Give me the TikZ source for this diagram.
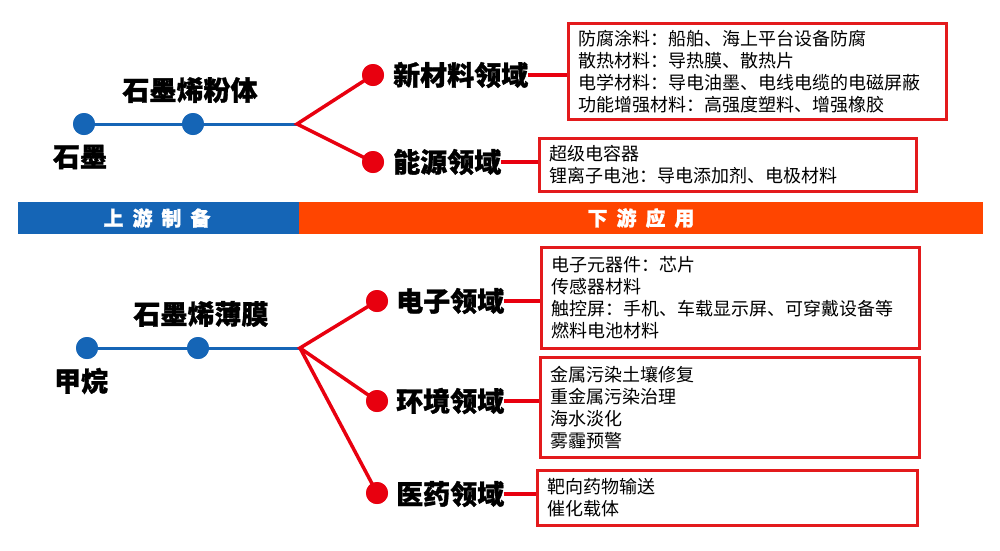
\documentclass[tikz,border=0pt]{standalone}
\usepackage{fontspec}
\newfontfamily\cjk{Noto Sans CJK SC}
\newfontfamily\cjkh{Noto Sans CJK SC}[BoldFeatures={FakeBold=1.2}]
\definecolor{cblue}{HTML}{1565B6}
\definecolor{cred}{HTML}{E8000F}
\definecolor{cbox}{HTML}{E31A1C}
\definecolor{corange}{HTML}{FF4500}
\begin{document}
\begin{tikzpicture}[x=1pt,y=-1pt,
  bdot/.style={circle,fill=cblue,minimum size=22pt,inner sep=0pt},
  rdot/.style={circle,fill=cred,minimum size=22pt,inner sep=0pt},
  bline/.style={draw=cblue,line width=3pt},
  rline/.style={draw=cred,line width=3.5pt},
  big/.style={font=\cjkh\bfseries\fontsize{27}{30}\selectfont,inner sep=0pt},
  lab/.style={big,anchor=west},
  infobox/.style={draw=cbox,line width=3pt,anchor=north west,align=left,
    font=\cjk\fontsize{18}{22}\selectfont,inner xsep=10pt,inner ysep=0pt},
  bartext/.style={text=white,font=\cjkh\bfseries\fontsize{20}{22}\selectfont,inner sep=0pt}
]
\useasboundingbox[fill=white] (0,0) rectangle (1000,550);

% upper chain
\coordinate (j1) at (297,124);
\node[bdot] (g1) at (84,124) {};
\node[bdot] (g2) at (193,124) {};
\draw[bline] (g1.center) -- (j1);
\node[bdot] at (g1) {};
\node[bdot] at (g2) {};
\node[big] (tg1) at (80,157) {石墨};
\node[big] (tg2) at (190,90) {石墨烯粉体};
\node[rdot] (r1) at (373,75) {};
\node[rdot] (r2) at (373,162) {};
\draw[rline] (r1.center) -- (j1) -- (r2.center);
\node[rdot] at (r1) {};
\node[rdot] at (r2) {};
\node[lab] (l1) at (393,75) {新材料领域};
\node[lab] (l2) at (393,162) {能源领域};

\node[infobox,minimum width=378pt,minimum height=96pt,text width=358pt] (b1) at (567,22)
 {防腐涂料：船舶、海上平台设备防腐\\散热材料：导热膜、散热片\\电学材料：导电油墨、电线电缆的电磁屏蔽\\功能增强材料：高强度塑料、增强橡胶};
\node[infobox,minimum width=377pt,minimum height=53pt,text width=357pt] (b2) at (538,137)
 {超级电容器\\锂离子电池：导电添加剂、电极材料};
\draw[rline] (l1.east) -- (l1.east -| b1.west);
\draw[rline] (l2.east) -- (l2.east -| b2.west);

% bar
\fill[cblue] (18,202) rectangle (299,234);
\fill[corange] (299,202) rectangle (983,234);
\node[bartext] (up) at (157,218) {上\hspace{9pt}游\hspace{9pt}制\hspace{9pt}备};
\node[bartext] (down) at (641,218) {下\hspace{9pt}游\hspace{9pt}应\hspace{9pt}用};

% lower chain
\coordinate (j2) at (300,348);
\node[bdot] (h1) at (87,348) {};
\node[bdot] (h2) at (198,348) {};
\draw[bline] (h1.center) -- (j2);
\node[bdot] at (h1) {};
\node[bdot] at (h2) {};
\node[big] (th1) at (81,381) {甲烷};
\node[big] (th2) at (201,314) {石墨烯薄膜};
\node[rdot] (s1) at (377,301) {};
\node[rdot] (s2) at (377,401) {};
\node[rdot] (s3) at (377,493) {};
\draw[rline] (s1.center) -- (j2) -- (s2.center);
\draw[rline] (j2) -- (s3.center);
\node[rdot] at (s1) {};
\node[rdot] at (s2) {};
\node[rdot] at (s3) {};
\node[lab] (m1) at (396,301) {电子领域};
\node[lab] (m2) at (396,401) {环境领域};
\node[lab] (m3) at (396,494) {医药领域};

\node[infobox,minimum width=378pt,minimum height=101pt,text width=358pt] (b3) at (540,246)
 {电子元器件：芯片\\传感器材料\\触控屏：手机、车载显示屏、可穿戴设备等\\燃料电池材料};
\node[infobox,minimum width=379pt,minimum height=100pt,text width=359pt] (b4) at (539,356)
 {金属污染土壤修复\\重金属污染治理\\海水淡化\\雾霾预警};
\node[infobox,minimum width=380pt,minimum height=55pt,text width=360pt] (b5) at (536,469)
 {靶向药物输送\\催化载体};
\draw[rline] (m1.east) -- (m1.east -| b3.west);
\draw[rline] (m2.east) -- (m2.east -| b4.west);
\draw[rline] (m3.east) -- (m3.east -| b5.west);
\end{tikzpicture}
\end{document}
